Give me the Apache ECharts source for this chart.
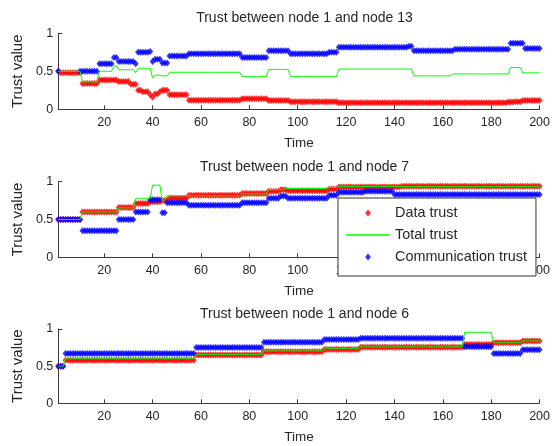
<!DOCTYPE html>
<html>
<head>
<meta charset="utf-8">
<script src="https://cdn.jsdelivr.net/npm/echarts@6/dist/echarts.min.js"></script>
<style>
html, body { margin: 0; padding: 0; background: #fff; }
#chart { width: 553px; height: 446px; }
</style>
</head>
<body>
<div id="chart"></div>
<script>
// Axis ticks
const timeTicks = [20, 40, 60, 80, 100, 120, 140, 160, 180, 200];
const trustTicks = [0, 0.5, 1];
const panelTitles = [
  'Trust between node 1 and node 13',
  'Trust between node 1 and node 7',
  'Trust between node 1 and node 6'
];
const seriesNames = ['Data trust', 'Total trust', 'Communication trust'];

// Trust values are piecewise constant over time steps 1..200.
// Each entry is [first time step, value]; the value holds until the next entry.
// null = no sample at those steps.

// node 1 - node 13
const dataTrust13 = [[1, 0.5], [2, 0.48], [11, 0.34], [18, 0.385], [26, 0.365], [31, 0.33], [34, 0.25],
  [36, 0.23], [39, 0.19], [40, 0.16], [41, 0.2], [43, 0.23], [44, 0.25], [47, 0.19], [55, 0.12],
  [77, 0.14], [88, 0.115], [97, 0.1], [117, 0.085], [187, 0.095], [190, 0.1], [193, 0.115]];
const totalTrust13 = [[1, 0.5], [11, 0.36], [18, 0.5], [24, 0.57], [26, 0.52], [33, 0.48], [34, 0.54],
  [40, 0.41], [41, 0.45], [44, 0.44], [47, 0.487], [77, 0.43], [88, 0.525], [97, 0.43], [117, 0.53],
  [148, 0.44], [164, 0.465], [188, 0.55], [193, 0.48]];
const commTrust13 = [[1, 0.5], [2, null], [10, 0.5], [18, 0.6], [24, 0.68], [26, 0.63], [33, 0.6],
  [34, 0.75], [39, 0.76], [40, 0.63], [41, 0.66], [44, 0.61], [47, 0.7], [55, 0.73], [77, 0.68],
  [88, 0.77], [97, 0.73], [113, 0.75], [117, 0.815], [146, 0.83], [148, 0.77], [165, 0.79],
  [188, 0.87], [194, 0.8]];

// node 1 - node 7
const dataTrust7 = [[1, 0.5], [11, 0.6], [26, 0.66], [33, 0.71], [39, 0.735], [44, 0.75], [47, 0.78],
  [55, 0.82], [77, 0.845], [88, 0.875], [93, 0.895], [96, 0.88], [113, 0.905], [117, 0.93], [143, 0.94]];
const totalTrust7 = [[1, 0.5], [11, 0.6], [26, 0.655], [33, 0.78], [40, 0.955], [44, 0.74], [45, 0.77],
  [46, 0.815], [77, 0.84], [88, 0.895], [95, 0.91], [113, 0.925], [117, 0.935]];
const commTrust7 = [[1, 0.5], [11, 0.35], [26, 0.5], [33, 0.6], [39, 0.76], [44, 0.59], [46, 0.72],
  [55, 0.69], [77, 0.72], [88, 0.78], [93, 0.81], [96, 0.78], [113, 0.82], [117, 0.86], [128, 0.875],
  [140, 0.83]];

// node 1 - node 6
const dataTrust6 = [[1, 0.5], [4, 0.58], [58, 0.65], [86, 0.695], [111, 0.725], [126, 0.753],
  [169, 0.79], [181, 0.815], [193, 0.84]];
const totalTrust6 = [[1, 0.5], [4, 0.6], [58, 0.655], [86, 0.705], [111, 0.735], [126, 0.76],
  [169, 0.955], [181, 0.815], [193, 0.84]];
const commTrust6 = [[1, 0.5], [4, 0.67], [58, 0.75], [86, 0.82], [111, 0.86], [126, 0.875],
  [169, 0.76], [181, 0.67], [193, 0.72]];

const panels = [
  [dataTrust13, totalTrust13, commTrust13],
  [dataTrust7, totalTrust7, commTrust7],
  [dataTrust6, totalTrust6, commTrust6]
];

// Turn a list of [start, value] runs into one sample per time step.
function toSamples(runs) {
  const out = [];
  for (let t = 1; t <= 200; t++) {
    let v = null;
    for (const [start, val] of runs) {
      if (t >= start) v = val;
    }
    out.push([t, v === null ? '-' : v]);
  }
  return out;
}

const FONT = '"Liberation Sans", Arial, sans-serif';
const INK = '#262626';
const AXIS = '#3a3a3a';
// Legend glyphs as paths so they keep their own proportions inside the legend cell
const DIAMOND_ICON = 'path://M0,-1.15 L0.95,0 L0,1.15 L-0.95,0 Z';
const LINE_ICON = 'path://M0,0 L44,0 L44,1.3 L0,1.3 Z';

const gridTops = [33.3, 181.7, 329];
const gridHeights = [76, 75.6, 74.3];
const gridLeft = 58.3;
const gridWidth = 482.4;

const grids = [], xAxes = [], yAxes = [], series = [], titles = [];
for (let i = 0; i < 3; i++) {
  grids.push({ left: gridLeft, top: gridTops[i], width: gridWidth, height: gridHeights[i] });
  titles.push({
    text: panelTitles[i],
    left: gridLeft + gridWidth / 2,
    top: gridTops[i] - 27,
    textAlign: 'center',
    textStyle: { fontFamily: FONT, fontSize: 14, fontWeight: 'normal', color: INK }
  });
  xAxes.push({
    gridIndex: i, type: 'value', min: 1, max: 200,
    name: 'Time', nameLocation: 'middle', nameGap: 26.5,
    nameTextStyle: { fontFamily: FONT, fontSize: 13.5, color: INK },
    axisLine: { show: true, lineStyle: { color: AXIS, width: 1 } },
    axisTick: { show: true, inside: true, length: 4, customValues: timeTicks, lineStyle: { color: AXIS } },
    axisLabel: { customValues: timeTicks, margin: 7, fontFamily: FONT, fontSize: 12.5, color: INK },
    splitLine: { show: false }
  });
  yAxes.push({
    gridIndex: i, type: 'value', min: 0, max: 1, interval: 0.5,
    name: 'Trust value', nameLocation: 'middle', nameGap: 27, nameRotate: 90,
    nameTextStyle: { fontFamily: FONT, fontSize: 15, color: INK },
    axisLine: { show: true, lineStyle: { color: AXIS, width: 1 } },
    axisTick: { show: true, inside: true, length: 4, lineStyle: { color: AXIS } },
    axisLabel: { margin: 5, fontFamily: FONT, fontSize: 12.5, color: INK },
    splitLine: { show: false }
  });
  const [d, t, c] = panels[i];
  series.push({
    name: seriesNames[0], type: 'scatter', xAxisIndex: i, yAxisIndex: i,
    data: toSamples(d), symbol: 'diamond', symbolSize: [6, 7],
    itemStyle: { color: '#ff0000' }, emphasis: { disabled: true }, silent: true
  });
  series.push({
    name: seriesNames[1], type: 'line', xAxisIndex: i, yAxisIndex: i,
    data: toSamples(t), symbol: 'none', showSymbol: false,
    lineStyle: { color: '#00ff00', width: 1 }, itemStyle: { color: '#00ff00' },
    emphasis: { disabled: true }, silent: true
  });
  series.push({
    name: seriesNames[2], type: 'scatter', xAxisIndex: i, yAxisIndex: i,
    data: toSamples(c), symbol: 'diamond', symbolSize: [6, 7],
    itemStyle: { color: '#0000ff' }, emphasis: { disabled: true }, silent: true
  });
}

const chart = echarts.init(document.getElementById('chart'), null, { renderer: 'canvas' });
chart.setOption({
  animation: false,
  backgroundColor: '#fff',
  title: titles,
  grid: grids,
  xAxis: xAxes,
  yAxis: yAxes,
  legend: {
    data: [
      { name: seriesNames[0], icon: DIAMOND_ICON, itemStyle: { color: '#ff0000' } },
      { name: seriesNames[1], icon: LINE_ICON, itemStyle: { color: '#00ff00' } },
      { name: seriesNames[2], icon: DIAMOND_ICON, itemStyle: { color: '#0000ff' } }
    ],
    orient: 'vertical',
    left: 338, top: 198,
    padding: [7, 9, 11, 8],
    itemWidth: 44, itemHeight: 7, itemGap: 6,
    symbolKeepAspect: true,
    backgroundColor: '#fff',
    borderColor: '#333', borderWidth: 1, borderRadius: 0,
    textStyle: { fontFamily: FONT, fontSize: 14.4, color: INK, lineHeight: 16 },
    selectedMode: false
  },
  series: series
});
</script>
</body>
</html>
